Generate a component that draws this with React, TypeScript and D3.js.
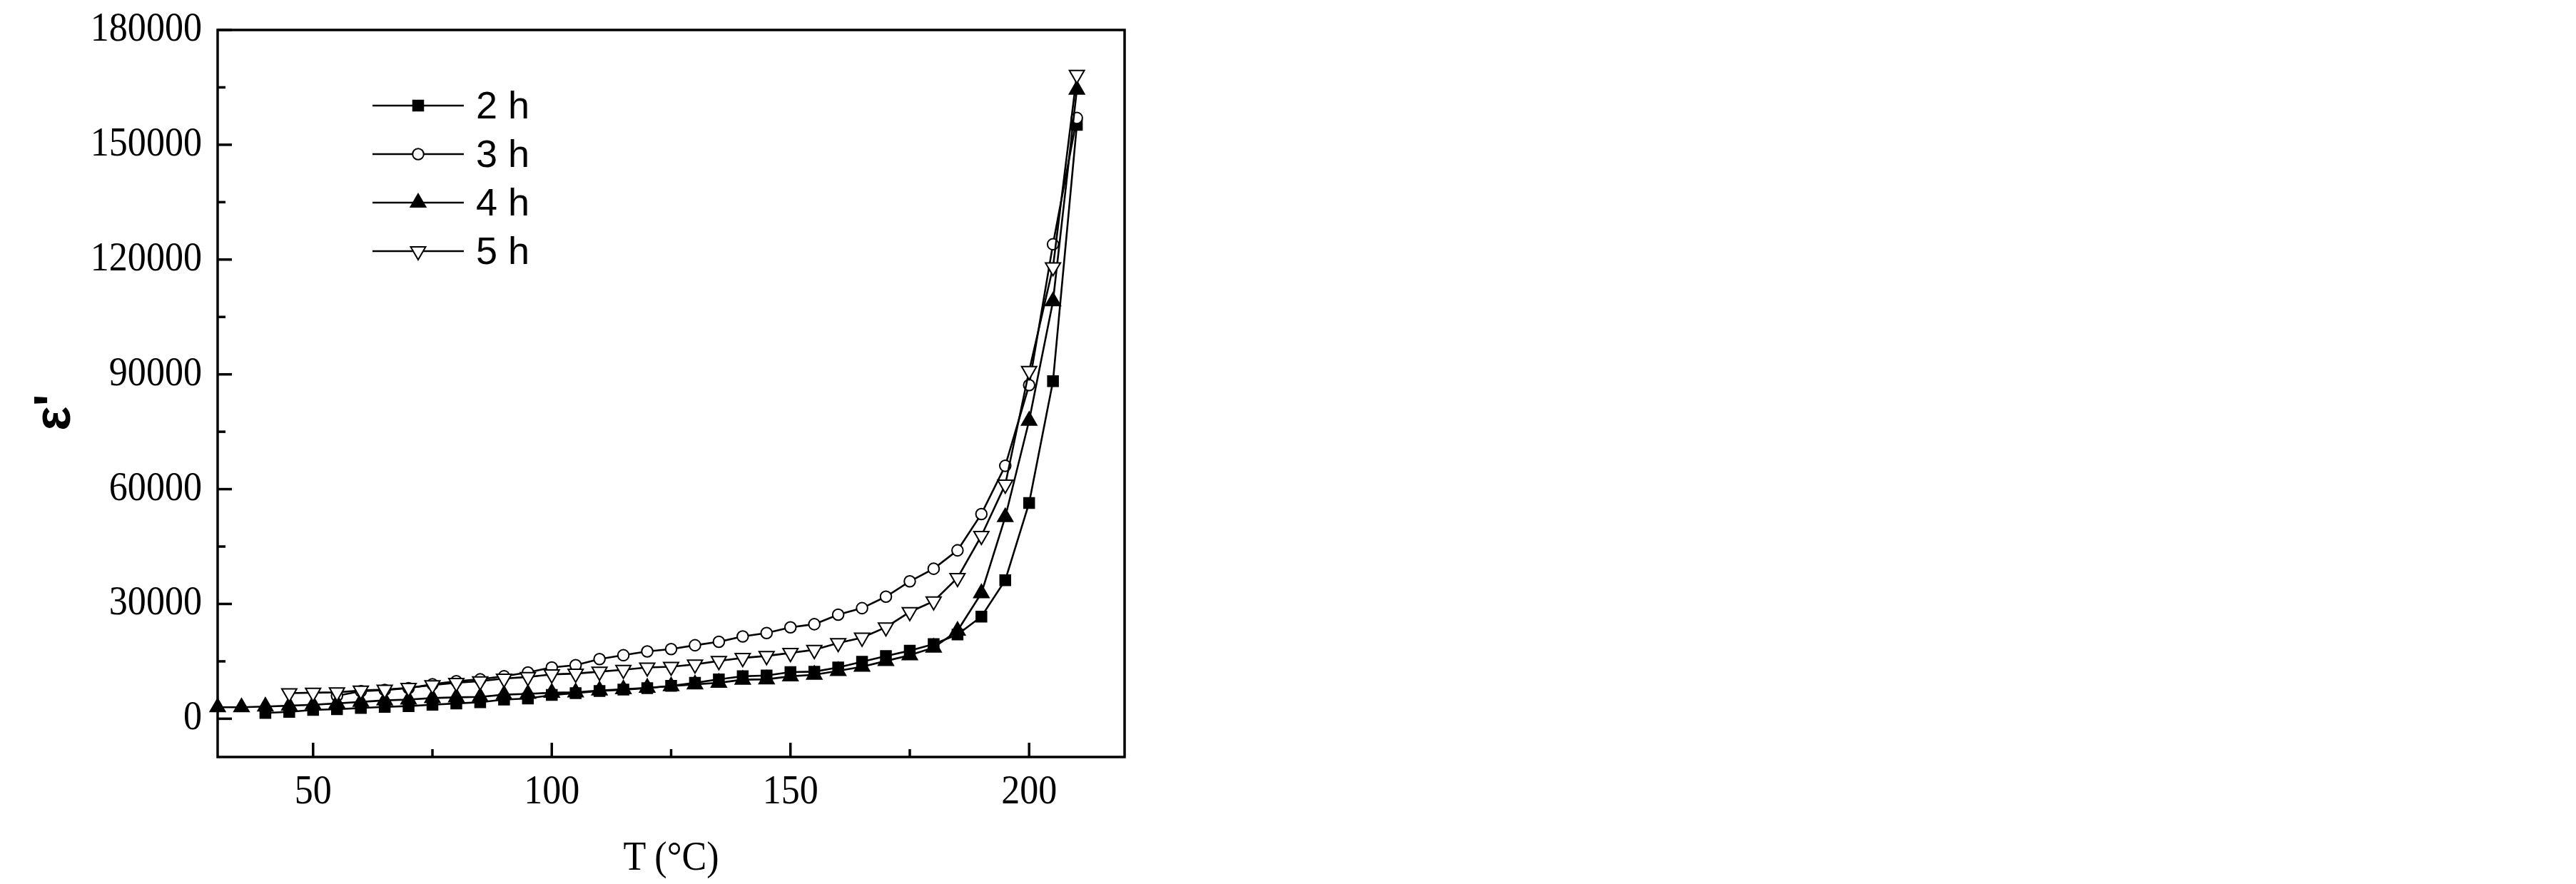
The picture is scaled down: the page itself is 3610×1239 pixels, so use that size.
import * as d3 from "d3";

// temperatures (°C) for each series
const temps2h = [40, 45, 50, 55, 60, 65, 70, 75, 80, 85, 90, 95, 100, 105, 110, 115, 120, 125, 130, 135, 140, 145, 150, 155, 160, 165, 170, 175, 180, 185, 190, 195, 200, 205, 210];
const eps2h = [1500, 1800, 2300, 2500, 2800, 3100, 3300, 3650, 4000, 4300, 5000, 5300, 6200, 6700, 7250, 7600, 8000, 8600, 9400, 10300, 11100, 11300, 12200, 12300, 13400, 14900, 16400, 17800, 19500, 22000, 26700, 36200, 56400, 88200, 155200];

const temps3h = [55, 60, 65, 70, 75, 80, 85, 90, 95, 100, 105, 110, 115, 120, 125, 130, 135, 140, 145, 150, 155, 160, 165, 170, 175, 180, 185, 190, 195, 200, 205, 210];
const eps3h = [6000, 7200, 7500, 8000, 9000, 9800, 10300, 11100, 12100, 13400, 14000, 15600, 16600, 17600, 18200, 19200, 20100, 21500, 22400, 23900, 24700, 27200, 28900, 31900, 35900, 39200, 44000, 53500, 66100, 87200, 124000, 157000];

const temps4h = [30, 35, 40, 45, 50, 55, 60, 65, 70, 75, 80, 85, 90, 95, 100, 105, 110, 115, 120, 125, 130, 135, 140, 145, 150, 155, 160, 165, 170, 175, 180, 185, 190, 195, 200, 205, 210];
const eps4h = [3000, 3000, 3200, 3400, 3650, 4000, 4400, 4800, 5000, 5400, 5600, 5700, 6300, 6500, 6800, 6900, 7400, 7700, 8100, 8500, 9000, 9400, 10200, 10300, 11100, 11500, 12500, 13600, 15100, 16600, 18600, 23000, 32800, 52700, 77900, 109100, 164400];

const temps5h = [45, 50, 55, 60, 65, 70, 75, 80, 85, 90, 95, 100, 105, 110, 115, 120, 125, 130, 135, 140, 145, 150, 155, 160, 165, 170, 175, 180, 185, 190, 195, 200, 205, 210];
const eps5h = [6700, 6800, 6900, 7400, 7600, 8100, 8800, 9400, 9800, 10500, 10900, 11600, 11800, 12300, 12800, 13400, 13600, 14200, 15100, 15900, 16400, 17200, 18000, 19800, 21200, 23900, 27900, 30700, 36800, 47800, 61200, 90900, 118000, 168300];

const seriesNames = ["2 h", "3 h", "4 h", "5 h"];

const yMajor = [0, 30000, 60000, 90000, 120000, 150000, 180000];
const yMinor = [15000, 45000, 75000, 105000, 135000, 165000];
const xMajor = [50, 100, 150, 200];
const xMinor = [75, 125, 175];

const W = 3610;
const H = 1239;
const PLOT = { left: 305, right: 1576, top: 42, bottom: 1061 };

const xScale = d3.scaleLinear().domain([30, 220]).range([PLOT.left, PLOT.right]);
const yScale = d3.scaleLinear().domain([-10000, 180000]).range([PLOT.bottom, PLOT.top]);

type Mk = { type: d3.SymbolType; fill: string; size: number; rot: number };
const markers: Mk[] = [
  { type: d3.symbolSquare, fill: "#000", size: 210, rot: 0 },
  { type: d3.symbolCircle, fill: "#fff", size: 190, rot: 0 },
  { type: d3.symbolTriangle, fill: "#000", size: 190, rot: 0 },
  { type: d3.symbolTriangle, fill: "#fff", size: 190, rot: 180 },
];

const allSeries = [
  { t: temps2h, v: eps2h },
  { t: temps3h, v: eps3h },
  { t: temps4h, v: eps4h },
  { t: temps5h, v: eps5h },
];

const SERIF = "'Liberation Serif', 'Times New Roman', serif";
const SANS = "'Liberation Sans', Arial, sans-serif";

function Marker({ x, y, m }: { x: number; y: number; m: Mk }) {
  const d = d3.symbol().type(m.type).size(m.size)() || "";
  return (
    <path
      d={d}
      transform={`translate(${x},${y}) rotate(${m.rot})`}
      fill={m.fill}
      stroke="#000"
      strokeWidth={2}
    />
  );
}

// Times-like tick label, slightly condensed like the original
function TickLabel({ x, y, anchor, children }: { x: number; y: number; anchor: string; children: any }) {
  return (
    <g transform={`translate(${x},${y}) scale(0.93,1)`}>
      <text textAnchor={anchor} fontFamily={SERIF} fontSize={56}>
        {children}
      </text>
    </g>
  );
}

export default function App() {
  const line = d3
    .line<[number, number]>()
    .x((d) => xScale(d[0]))
    .y((d) => yScale(d[1]));

  const legendY = [148, 216, 284, 352];

  return (
    <svg width={W} height={H} style={{ position: "absolute", left: 0, top: 0, background: "#fff" }}>
      <rect x={0} y={0} width={W} height={H} fill="#fff" />

      {/* data */}
      {allSeries.map((s, i) => {
        const pts = s.t.map((t, j) => [t, s.v[j]] as [number, number]);
        return (
          <g key={i}>
            <path d={line(pts) || ""} fill="none" stroke="#000" strokeWidth={2.6} />
            {pts.map((p, j) => (
              <Marker key={j} x={xScale(p[0])} y={yScale(p[1])} m={markers[i]} />
            ))}
          </g>
        );
      })}

      {/* frame */}
      <rect
        x={PLOT.left}
        y={PLOT.top}
        width={PLOT.right - PLOT.left}
        height={PLOT.bottom - PLOT.top}
        fill="none"
        stroke="#000"
        strokeWidth={3.5}
      />

      {/* y ticks */}
      {yMajor.map((v) => (
        <g key={v}>
          <line x1={PLOT.left} x2={PLOT.left + 20} y1={yScale(v)} y2={yScale(v)} stroke="#000" strokeWidth={3.5} />
          <TickLabel x={PLOT.left - 22} y={yScale(v) + 15} anchor="end">
            {v}
          </TickLabel>
        </g>
      ))}
      {yMinor.map((v) => (
        <line key={v} x1={PLOT.left} x2={PLOT.left + 11} y1={yScale(v)} y2={yScale(v)} stroke="#000" strokeWidth={3.5} />
      ))}

      {/* x ticks */}
      {xMajor.map((v) => (
        <g key={v}>
          <line x1={xScale(v)} x2={xScale(v)} y1={PLOT.bottom} y2={PLOT.bottom - 20} stroke="#000" strokeWidth={3.5} />
          <TickLabel x={xScale(v)} y={1126} anchor="middle">
            {v}
          </TickLabel>
        </g>
      ))}
      {xMinor.map((v) => (
        <line key={v} x1={xScale(v)} x2={xScale(v)} y1={PLOT.bottom} y2={PLOT.bottom - 11} stroke="#000" strokeWidth={3.5} />
      ))}

      {/* axis titles */}
      <TickLabel x={(PLOT.left + PLOT.right) / 2} y={1219} anchor="middle">
        T (°C)
      </TickLabel>
      <text
        transform={`translate(98,578) rotate(-90)`}
        textAnchor="middle"
        fontFamily={SANS}
        fontWeight="bold"
        fontSize={72}
      >
        ε'
      </text>

      {/* legend */}
      {seriesNames.map((name, i) => (
        <g key={name}>
          <line x1={522} x2={650} y1={legendY[i]} y2={legendY[i]} stroke="#000" strokeWidth={2.6} />
          <Marker x={586} y={legendY[i]} m={markers[i]} />
          <text x={667} y={legendY[i] + 18} fontFamily={SANS} fontSize={54}>
            {name}
          </text>
        </g>
      ))}
    </svg>
  );
}
